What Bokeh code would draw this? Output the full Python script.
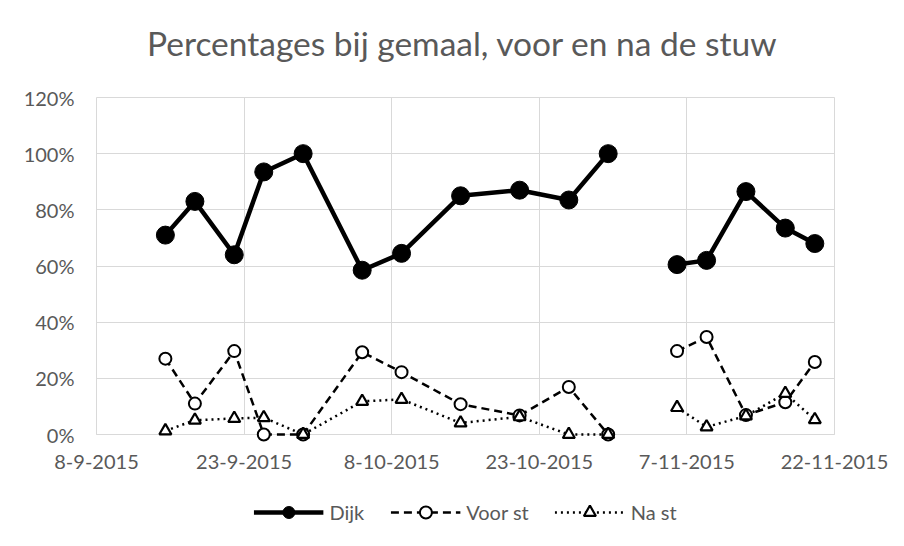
import numpy as np
import pandas as pd
from bokeh.plotting import figure
from bokeh.layouts import column
from bokeh.models import (ColumnDataSource, Range1d, FixedTicker, PrintfTickFormatter,
                          Legend, LegendItem, Label)
from bokeh.embed import file_html
from bokeh.resources import INLINE

# ---- data ----
dates = ["2015-09-15", "2015-09-18", "2015-09-22", "2015-09-25", "2015-09-29",
         "2015-10-05", "2015-10-09", "2015-10-15", "2015-10-21", "2015-10-26",
         "2015-10-30", "2015-11-02", "2015-11-06", "2015-11-09", "2015-11-13",
         "2015-11-17", "2015-11-20"]
dijk = [71, 83, 64, 93.5, 100, 58.5, 64.5, 85, 87, 83.5, 100, np.nan,
        60.5, 62, 86.5, 73.5, 68]
voor_st = [27, 11, 29.7, 0, 0, 29.3, 22.2, 10.8, 6.8, 16.9, 0, np.nan,
           29.7, 34.7, 6.9, 11.5, 25.8]
na_st = [1.3, 5.1, 5.7, 6.0, 0, 11.8, 12.5, 4.1, 6.3, 0, 0, np.nan,
         9.6, 2.7, 6.6, 14.6, 5.3]

x_tick_dates = ["2015-09-08", "2015-09-23", "2015-10-08", "2015-10-23",
                "2015-11-07", "2015-11-22"]
x_tick_labels = ["8-9-2015", "23-9-2015", "8-10-2015", "23-10-2015",
                 "7-11-2015", "22-11-2015"]
y_ticks = [0, 20, 40, 60, 80, 100, 120]

title_text = "Percentages bij gemaal, voor en na de stuw"
series_names = ["Dijk", "Voor st", "Na st"]

# ---- styles ----
TXT = "#595959"
GRID = "#d9d9d9"
FONT = "Lato"
styles = [
    dict(line=dict(line_color="black", line_width=4.5),
         mark=dict(marker="circle", size=18, fill_color="black", line_color="black")),
    dict(line=dict(line_color="black", line_width=2.5, line_dash="8 5"),
         mark=dict(marker="circle", size=12, fill_color="white", line_color="black",
                   line_width=2)),
    dict(line=dict(line_color="black", line_width=2.5, line_dash="2 4"),
         mark=dict(marker="triangle", size=12, fill_color="white", line_color="black",
                   line_width=2.2)),
]


def blank(height, bottom=0):
    f = figure(width=896, height=height, output_backend="svg", toolbar_location=None,
               x_range=Range1d(0, 1), y_range=Range1d(0, 1),
               x_axis_location=None, y_axis_location=None)
    f.grid.visible = False
    f.outline_line_color = None
    f.min_border_left = 0
    f.min_border_right = 0
    f.min_border_top = 0
    f.min_border_bottom = bottom
    return f


# ---- title strip (frame is aligned with the chart frame by the column) ----
pt = blank(85)
pt.add_layout(Label(x=366, y=43, x_units="screen", y_units="screen", text=title_text,
                    text_align="center", text_baseline="middle", text_font=FONT,
                    text_font_size="33.5px", text_color=TXT))

# ---- main chart ----
src = ColumnDataSource(dict(x=pd.to_datetime(dates), dijk=dijk, voor=voor_st, na=na_st))
tick_ms = [int(v) for v in (pd.to_datetime(x_tick_dates).astype("int64") // 10**6)]

p = figure(width=896, height=401, x_axis_type="datetime", output_backend="svg",
           toolbar_location=None,
           x_range=Range1d(tick_ms[0], tick_ms[-1]),
           y_range=Range1d(y_ticks[0], y_ticks[-1]))
p.min_border_left = 96
p.min_border_right = 62
p.min_border_top = 12
p.min_border_bottom = 52

p.outline_line_color = GRID
p.xgrid.grid_line_color = GRID
p.ygrid.grid_line_color = GRID
p.xaxis.ticker = FixedTicker(ticks=tick_ms)
p.xaxis.major_label_overrides = {ms: lab for ms, lab in zip(tick_ms, x_tick_labels)}
p.yaxis.ticker = FixedTicker(ticks=y_ticks)
p.yaxis.formatter = PrintfTickFormatter(format="%d%%")

for ax in (p.xaxis, p.yaxis):
    ax.axis_line_color = GRID
    ax.major_tick_line_color = None
    ax.minor_tick_line_color = None
    ax.major_label_text_font = FONT
    ax.major_label_text_font_size = "20px"
    ax.major_label_text_color = TXT
p.yaxis.axis_line_color = None
p.xaxis.major_label_standoff = 14
p.yaxis.major_label_standoff = 16

for col, st in zip(["dijk", "voor", "na"], styles):
    p.line("x", col, source=src, level="overlay", **st["line"])
    p.scatter("x", col, source=src, level="overlay", **st["mark"])

# ---- legend strip below ----
pl = blank(54, bottom=2)
nodata = ColumnDataSource(dict(x=[np.nan], y=[np.nan]))
items = []
for name, st in zip(series_names, styles):
    rl = pl.line("x", "y", source=nodata, **st["line"])
    rm = pl.scatter("x", "y", source=nodata, **st["mark"])
    items.append(LegendItem(label=name, renderers=[rl, rm]))

legend = Legend(items=items, orientation="horizontal", location="center")
legend.border_line_color = None
legend.background_fill_alpha = 0
legend.label_text_font = FONT
legend.label_text_font_size = "20px"
legend.label_text_color = TXT
legend.glyph_width = 70
legend.glyph_height = 30
legend.spacing = 26
legend.label_standoff = 6
legend.margin = 0
legend.padding = 8
pl.add_layout(legend, "center")

layout = column(pt, p, pl, spacing=0)
open("out.html", "w").write(file_html(layout, INLINE))
